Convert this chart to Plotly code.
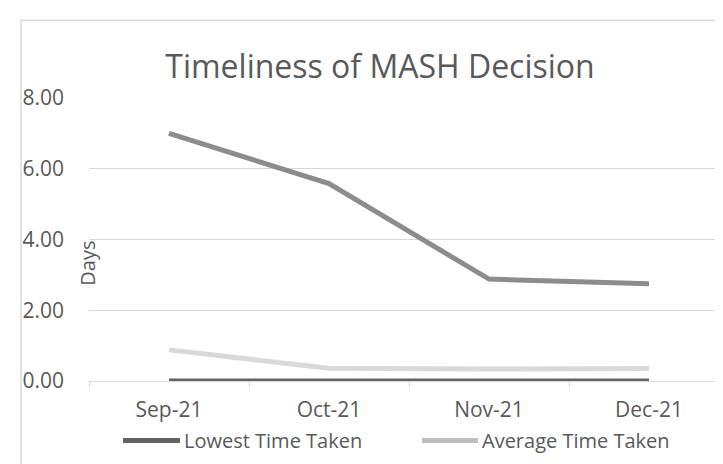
import plotly.graph_objects as go

months = ["Sep-21", "Oct-21", "Nov-21", "Dec-21"]
highest = [7.0, 5.58, 2.88, 2.75]
average = [0.88, 0.36, 0.34, 0.35]
lowest = [0.0, 0.0, 0.0, 0.0]
y_ticks = [0, 2, 4, 6, 8]
y_tick_labels = ["0.00", "2.00", "4.00", "6.00", "8.00"]
legend_names = ["Lowest Time Taken", "Average Time Taken"]
legend_colors = ["#636363", "#bfbfbf"]

FONT = "Open Sans"
TXT = "#595959"
GRID = "#d9d9d9"

# plot area in pixels
L, R, T, B = 81, 721, 90, 373.5
W, H = R - L, B - T


def px(x):
    return (x - L) / W


def py(y):
    return (B - y) / H


fig = go.Figure()
fig.add_trace(go.Scatter(x=months, y=highest, mode="lines", name="Highest Time Taken",
                         line=dict(color="#8c8c8c", width=5)))
fig.add_trace(go.Scatter(x=months, y=average, mode="lines", name="Average Time Taken",
                         line=dict(color="#d9d9d9", width=5)))
fig.add_trace(go.Scatter(x=months, y=lowest, mode="lines", name="Lowest Time Taken",
                         line=dict(color="#636363", width=5)))

fig.update_layout(
    width=723, height=464,
    margin=dict(l=L, r=723 - R, t=T, b=464 - B),
    paper_bgcolor="white", plot_bgcolor="white",
    font=dict(family=FONT, color=TXT, size=20),
    title=dict(text="Timeliness of MASH Decision", x=0.5145, xanchor="center",
               y=1 - 59 / 464, yanchor="middle", xref="container", yref="container",
               font=dict(family=FONT, size=32, color=TXT)),
    showlegend=False,
    xaxis=dict(type="category", range=[-0.5, 3.5], showgrid=False,
               showline=True, linecolor=GRID, linewidth=1,
               ticks="outside", tickson="boundaries", ticklen=5, tickcolor=GRID,
               ticklabelstandoff=10,
               tickfont=dict(family=FONT, size=21, color=TXT), fixedrange=True),
    yaxis=dict(range=[0, 8], tickvals=y_ticks, ticktext=y_tick_labels,
               showgrid=True, gridcolor=GRID, gridwidth=1, zeroline=False,
               showline=False, ticks="", ticklabelstandoff=24,
               tickfont=dict(family=FONT, size=21, color=TXT), fixedrange=True),
)

fig.add_annotation(text="Days", textangle=-90, xref="paper", yref="paper",
                   x=px(80), y=py(256), xanchor="center", yanchor="middle", showarrow=False,
                   font=dict(family=FONT, size=20, color=TXT))

# manual legend (the third entry is cropped out of the original)
legend_line_x = [(115, 172), (414, 470)]
for name, col, (a, b) in zip(legend_names, legend_colors, legend_line_x):
    fig.add_shape(type="line", xref="paper", yref="paper",
                  x0=px(a), x1=px(b), y0=py(433), y1=py(433),
                  line=dict(color=col, width=5))
    fig.add_annotation(text=name, xref="paper", yref="paper", x=px(b + 2), y=py(433),
                       xanchor="left", yanchor="middle", showarrow=False,
                       font=dict(family=FONT, size=20, color=TXT))

# chart frame (partly cropped in the original)
fig.add_shape(type="rect", xref="paper", yref="paper",
              x0=px(13), x1=px(760), y0=py(520), y1=py(12),
              line=dict(color=GRID, width=1.5), fillcolor="rgba(0,0,0,0)", layer="below")

fig.write_html("out.html")
